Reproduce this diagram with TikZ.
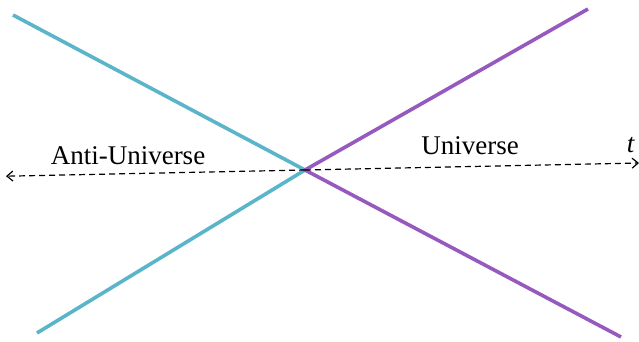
\documentclass[tikz,border=0pt]{standalone}
\usepackage{fontspec}
\setmainfont{Liberation Serif}
\usetikzlibrary{arrows.meta}
\definecolor{cyanl}{HTML}{5BB5CA}
\definecolor{purpl}{HTML}{965ABE}
\begin{document}
\begin{tikzpicture}[x=1pt,y=-1pt,
  ray/.style={line width=3.6pt},
  axis/.style={line width=1.2pt,dash pattern=on 6pt off 4pt,-{Straight Barb[length=6pt,width=10pt]}},
  lbl/.style={font=\fontsize{27}{32}\selectfont,inner sep=0pt}]
\useasboundingbox (0,0) rectangle (639,342);
\coordinate (o) at (305,170);
\coordinate (tl) at (13,15);
\coordinate (bl) at (37,333);
\coordinate (tr) at (588,9);
\coordinate (br) at (621,337);
\coordinate (lt) at (6,176.2);
\coordinate (rt) at (639,163);
\draw[ray,cyanl] (tl) -- (o) -- (bl);
\draw[ray,purpl] (tr) -- (o) -- (br);
\draw[axis] (o) -- (lt);
\draw[axis] (o) -- (rt);
\node[lbl] (anti) at (128,156) {Anti-Universe};
\node[lbl] (uni) at (470,146) {Universe};
\node[lbl] (t) at (631,145) {\textit{t}};
\end{tikzpicture}
\end{document}
